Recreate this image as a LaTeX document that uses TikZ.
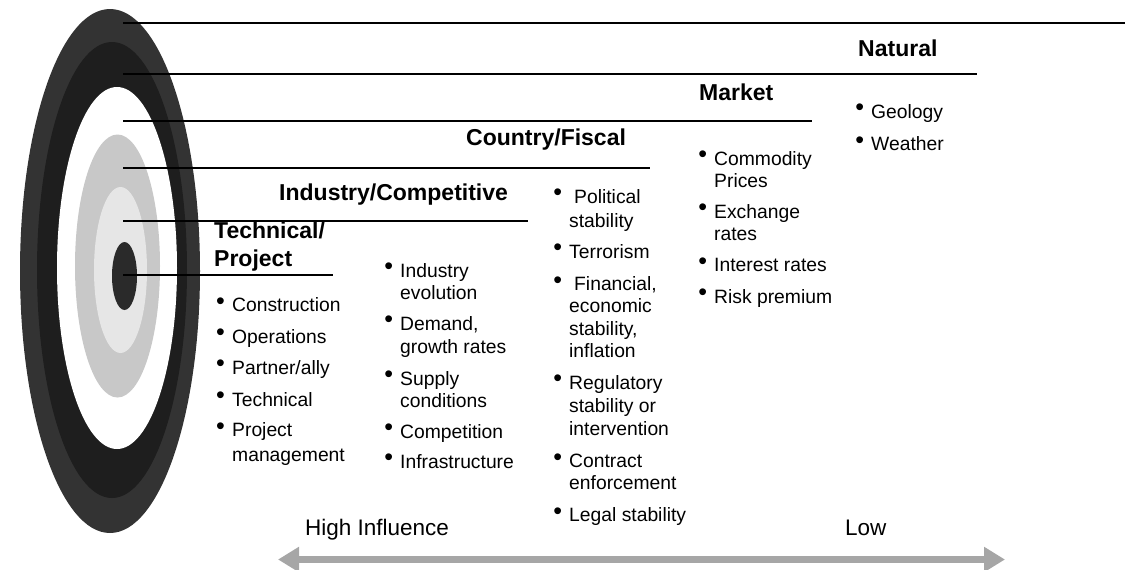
\documentclass[tikz,border=0pt]{standalone}
\usepackage{fontspec}
\setmainfont{Liberation Sans}
\usetikzlibrary{arrows.meta}
\definecolor{ringA}{HTML}{333333}
\definecolor{ringB}{HTML}{1E1E1E}
\definecolor{ringD}{HTML}{C8C8C8}
\definecolor{ringE}{HTML}{E6E6E6}
\definecolor{ringF}{HTML}{2A2A2A}
\definecolor{arrowgray}{HTML}{A6A6A6}
\newcommand\bulx{\llap{\raisebox{2.6pt}{\fontsize{25}{25}\selectfont\textbullet}\hspace{7.2pt}}}
\newcommand\lns[1]{\vtop{\halign{##\hfil\cr#1\crcr}}}
\begin{document}
\begin{tikzpicture}[x=1pt,y=-1pt,
  head/.style={anchor=base west, inner sep=0pt, font=\fontsize{23}{28}\selectfont\bfseries},
  itm/.style={anchor=base west, inner sep=0pt, font=\fontsize{19.3}{22.5}\selectfont},
  lbl/.style={anchor=base west, inner sep=0pt, font=\fontsize{22.5}{26}\selectfont},
  rule/.style={line width=2.4pt, black},
  bigarrow/.style={line width=6.5pt, arrowgray, {Triangle[length=21pt,width=24pt]}-{Triangle[length=21pt,width=24pt]}}
]
\useasboundingbox (0,0) rectangle (1125,570);
% target
\fill[ringA] (110,271) ellipse [x radius=90pt, y radius=262pt];
\fill[ringB] (112,270) ellipse [x radius=75pt, y radius=228pt];
\fill[white] (117,268) ellipse [x radius=60pt, y radius=181pt];
\fill[ringD] (117.5,266) ellipse [x radius=42.5pt, y radius=131.5pt];
\fill[ringE] (120.5,270) ellipse [x radius=26.5pt, y radius=83pt];
\fill[ringF] (124.5,276) ellipse [x radius=12.5pt, y radius=34pt];
% rule coordinates
\coordinate (s1) at (123,22.7);  \coordinate (e1) at (1125,22.7);
\coordinate (s2) at (123,74);    \coordinate (e2) at (977,74);
\coordinate (s3) at (123,120.7); \coordinate (e3) at (812,120.7);
\coordinate (s4) at (123,168);   \coordinate (e4) at (650,168);
\coordinate (s5) at (123,221);   \coordinate (e5) at (528,221);
\coordinate (s6) at (123,275);   \coordinate (e6) at (333,275);
\draw[rule] (s1) -- (e1);
\draw[rule] (s2) -- (e2);
\draw[rule] (s3) -- (e3);
\draw[rule] (s4) -- (e4);
\draw[rule] (s5) -- (e5);
\draw[rule] (s6) -- (e6);
% headings
\node[head] (hN) at (858,56.7) {Natural};
\node[head] (hM) at (699,100) {Market};
\node[head] (hC) at (466,145) {Country/Fiscal};
\node[head] (hI) at (279,200) {Industry/Competitive};
\node[head] (hT) at (214,238) {\lns{Technical/\cr Project}};
% technical column
\node[itm] (t1) at (232,311.7) {\lns{\bulx Construction}};
\node[itm] (t2) at (232,343.3) {\lns{\bulx Operations}};
\node[itm] (t3) at (232,374.3) {\lns{\bulx Partner/ally}};
\node[itm] (t4) at (232,406) {\lns{\bulx Technical}};
\node[itm, font=\fontsize{19.3}{25}\selectfont] (t5) at (232,436.7) {\lns{\bulx Project\cr management}};
% industry column
\node[itm, font=\fontsize{19.3}{22}\selectfont] (i1) at (400,277.5) {\lns{\bulx Industry\cr evolution}};
\node[itm, font=\fontsize{19.3}{23}\selectfont] (i2) at (400,330) {\lns{\bulx Demand,\cr growth rates}};
\node[itm, font=\fontsize{19.3}{22}\selectfont] (i3) at (400,385) {\lns{\bulx Supply\cr conditions}};
\node[itm] (i4) at (400,438.5) {\lns{\bulx Competition}};
\node[itm] (i5) at (400,468.5) {\lns{\bulx Infrastructure}};
% country column
\node[itm, font=\fontsize{19.3}{24}\selectfont] (c1) at (569,203.3) {\lns{\bulx\hspace{5pt}Political\cr stability}};
\node[itm] (c2) at (569,258.3) {\lns{\bulx Terrorism}};
\node[itm, font=\fontsize{19.3}{22.2}\selectfont] (c3) at (569,290.7) {\lns{\bulx\hspace{5pt}Financial,\cr economic\cr stability,\cr inflation}};
\node[itm, font=\fontsize{19.3}{23}\selectfont] (c4) at (569,389.3) {\lns{\bulx Regulatory\cr stability or\cr intervention}};
\node[itm, font=\fontsize{19.3}{21.6}\selectfont] (c5) at (569,467.7) {\lns{\bulx Contract\cr enforcement}};
\node[itm] (c6) at (569,521.7) {\lns{\bulx Legal stability}};
% market column
\node[itm, font=\fontsize{19.3}{22}\selectfont] (m1) at (714,165) {\lns{\bulx Commodity\cr Prices}};
\node[itm] (m2) at (714,218.3) {\lns{\bulx Exchange\cr rates}};
\node[itm] (m3) at (714,271.7) {\lns{\bulx Interest rates}};
\node[itm] (m4) at (714,303.3) {\lns{\bulx Risk premium}};
% natural column
\node[itm] (n1) at (871,118.3) {\lns{\bulx Geology}};
\node[itm] (n2) at (871,150.7) {\lns{\bulx Weather}};
% influence axis
\node[lbl] (hi) at (305,535) {High Influence};
\node[lbl] (lo) at (845,535) {Low};
\coordinate (aL) at (278,559.5);
\coordinate (aR) at (1005,559.5);
\draw[bigarrow] (aL) -- (aR);
\end{tikzpicture}
\end{document}
